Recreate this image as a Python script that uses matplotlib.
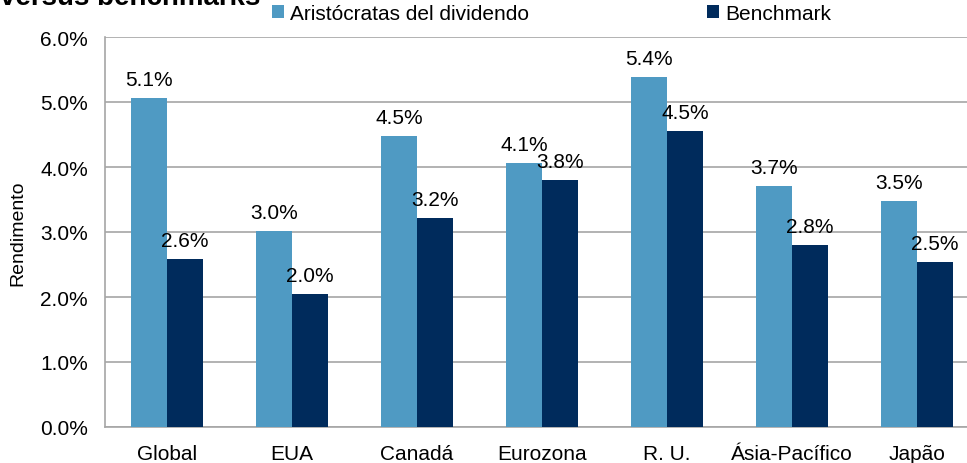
import matplotlib.pyplot as plt
import numpy as np

plt.rcParams['font.family'] = ['Liberation Sans', 'DejaVu Sans']

categories = ['Global', 'EUA', 'Canadá', 'Eurozona', 'R. U.', 'Ásia-Pacífico', 'Japão']
aristocratas = [5.06, 3.02, 4.48, 4.06, 5.38, 3.71, 3.48]
benchmark = [2.58, 2.05, 3.22, 3.80, 4.55, 2.80, 2.54]
labels_a = ['5.1%', '3.0%', '4.5%', '4.1%', '5.4%', '3.7%', '3.5%']
labels_b = ['2.6%', '2.0%', '3.2%', '3.8%', '4.5%', '2.8%', '2.5%']

light = '#4F9AC3'
dark = '#002B5C'
grid = '#A6A6A6'
fs = 15

fig = plt.figure(figsize=(9.67, 4.64), dpi=100)
ax = fig.add_axes([104.5 / 967, 36 / 464, 875 / 967, 390 / 464])

x = np.arange(len(categories))
w = 0.287
ax.bar(x - w / 2, aristocratas, w, color=light, label='Aristócratas del dividendo', zorder=3)
ax.bar(x + w / 2, benchmark, w, color=dark, label='Benchmark', zorder=3)

for i in range(len(x)):
    ax.text(x[i] - w / 2, aristocratas[i] + 0.14, labels_a[i], ha='center', va='bottom', fontsize=fs)
    ax.text(x[i] + w / 2, benchmark[i] + 0.14, labels_b[i], ha='center', va='bottom', fontsize=fs)

ax.set_xlim(-0.5, 6.5)
ax.set_ylim(0, 6)
ax.set_yticks(np.arange(0, 7, 1))
ax.set_yticklabels(['%.1f%%' % v for v in np.arange(0, 7, 1)], fontsize=fs)
ax.set_xticks(x)
ax.set_xticklabels(categories, fontsize=fs)
ax.tick_params(axis='y', length=0, pad=12)
ax.tick_params(axis='x', length=0, pad=12)
ax.yaxis.grid(True, color=grid, linewidth=1.2, zorder=0)
for s in ['top', 'right']:
    ax.spines[s].set_visible(False)
for s in ['left', 'bottom']:
    ax.spines[s].set_color(grid)
    ax.spines[s].set_linewidth(1.2)
ax.set_ylabel('Rendimento', fontsize=14)
ax.yaxis.set_label_coords(-78 / 875, 0.5)

fig.legend(loc='upper left', bbox_to_anchor=(253 / 967, 1.03), ncol=2, frameon=False,
           fontsize=fs, handlelength=0.6, handleheight=0.6, handletextpad=0.3,
           columnspacing=8.5)

fig.text(0.0, 1.005, 'versus benchmarks', fontsize=20, fontweight='bold', va='center', ha='left')

fig.savefig('out.png', dpi=100)
